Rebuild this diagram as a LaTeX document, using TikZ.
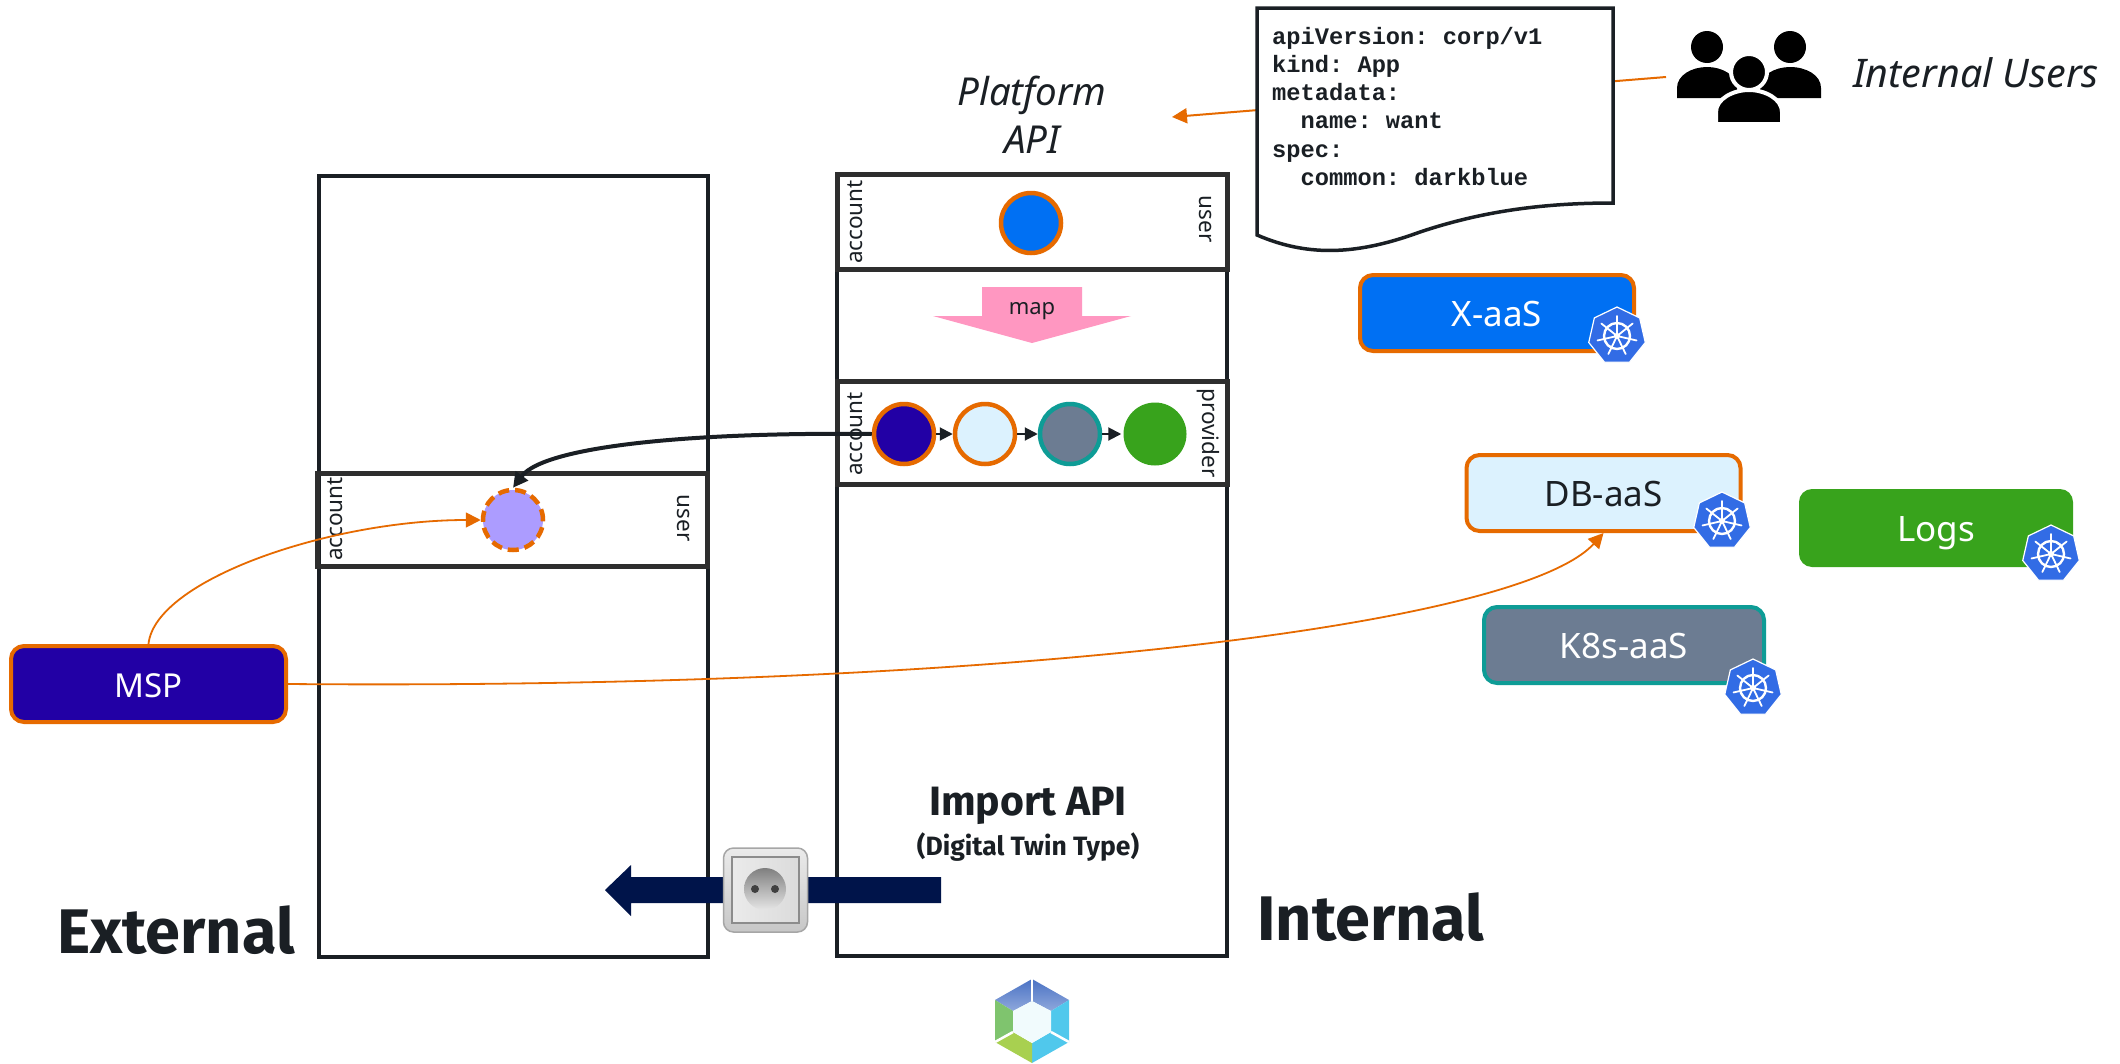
\documentclass[tikz,border=0pt]{standalone}
\usepackage{fontspec}
\setmainfont{Noto Sans}
\newfontfamily\firaf{Fira Sans}
\newfontfamily\docmono{Liberation Mono}
\usetikzlibrary{arrows.meta,shapes.geometric}
\definecolor{ink}{HTML}{1A1F24}
\definecolor{rowink}{HTML}{2E2E2E}
\definecolor{orng}{HTML}{E66A00}
\definecolor{xblue}{HTML}{0070F3}
\definecolor{dbfill}{HTML}{DCF2FE}
\definecolor{msp}{HTML}{2200A5}
\definecolor{slatec}{HTML}{6C7C92}
\definecolor{tealc}{HTML}{0E9C96}
\definecolor{logsg}{HTML}{38A31C}
\definecolor{lilac}{HTML}{AC9CFF}
\definecolor{pinkm}{HTML}{FF97C1}
\definecolor{navy}{HTML}{00144A}
\definecolor{kblue}{HTML}{326CE5}
\definecolor{hexblue}{HTML}{4A72C4}
\definecolor{hexbluel}{HTML}{8FA8DC}
\definecolor{hexcyan}{HTML}{50C8EC}
\definecolor{hexgreen}{HTML}{7FC46E}
\definecolor{hexlime}{HTML}{A8D050}
\tikzset{
  frame/.style={draw=ink,line width=4.5pt},
  rowbox/.style={draw=rowink,line width=5pt},
  svc/.style={rounded corners=13pt,minimum height=76pt,inner sep=0pt,line width=4pt,text height=30pt,text depth=3pt,font=\fontsize{35}{40}\selectfont},
  dot/.style={circle,minimum size=60pt,inner sep=0pt,line width=4.5pt},
  rowlab/.style={font=\fontsize{22.5}{26}\selectfont,text=ink,inner sep=0pt},
  thin orange/.style={draw=orng,line width=1.8pt},
  otip/.style={-{Triangle[length=15pt,width=15pt]}},
  heading/.style={font=\firaf\bfseries\fontsize{63}{70}\selectfont,text=ink,inner sep=0pt},
  chain/.style={draw=ink,line width=2pt,-{Triangle[length=13pt,width=13pt]}},
  kube/.pic={
    \path[fill=kblue,draw=white,line width=1.2pt]
      (-90:29) -- (-38.6:29) -- (12.9:29) -- (64.3:29) -- (115.7:29) -- (167.1:29) -- (218.6:29) -- cycle;
    \draw[white,line width=2.4pt] (0,0) circle [radius=13];
    \fill[white] (0,0) circle [radius=3.2];
    \foreach \a in {-90,-38.6,12.9,64.3,115.7,167.1,218.6}{
      \draw[white,line width=1.8pt,line cap=round] (\a:3) -- (\a:20);
    }
  },
}
\begin{document}
\begin{tikzpicture}[x=1pt,y=-1pt]
\useasboundingbox (0,0) rectangle (2120,1063);
\fill[white] (0,0) rectangle (2120,1063);

% main columns
\draw[frame] (319,176) rectangle (708,957);
\draw[frame] (837,174) rectangle (1227,956);
\draw[rowbox] (837,174) rectangle (1227,269);
\draw[rowbox] (837,381) rectangle (1227,484);
\draw[rowbox] (317,473) rectangle (707,566);

% rows: top
\node[dot,fill=xblue,draw=orng] (cblue) at (1031,223) {};
\node[rowlab,rotate=90] (la1) at (855,222) {account};
\node[rowlab,rotate=-90] (lu1) at (1206,219) {user};

% map arrow
\fill[pinkm] (982,287) -- (1082,287) -- (1082,316) -- (1131,316) -- (1032,343) -- (933,316) -- (982,316) -- cycle;
\node[rowlab,font=\fontsize{22}{26}\selectfont] (maplab) at (1032,311) {map};

% provider row
\node[rowlab,rotate=90] (la2) at (855,434) {account};
\node[rowlab,rotate=-90] (lp2) at (1208,433) {provider};
\node[dot,fill=msp,draw=orng] (c1) at (904,434) {};
\node[dot,fill=dbfill,draw=orng] (c2) at (985,434) {};
\node[dot,fill=slatec,draw=tealc] (c3) at (1070,434) {};
\node[dot,fill=logsg,minimum size=63pt,draw=none] (c4) at (1155,434) {};
\draw[chain] (c1) -- (c2);
\draw[chain] (c2) -- (c3);
\draw[chain] (c3) -- (c4);

% external row
\node[rowlab,rotate=90] (la3) at (335,519) {account};
\node[rowlab,rotate=-90] (lu3) at (684,518) {user};
\node[dot,fill=lilac,draw=orng,dashed,dash pattern=on 11pt off 6pt] (cext) at (513,520) {};

% black arrow
\draw[draw=ink,line width=4pt,-{Triangle[length=15pt,width=15pt]}] (c1.west)
  .. controls (700,432) and (545,445) .. (cext.north);

% services
\node[svc,fill=xblue,draw=orng,text=white,minimum width=274pt] (xaas) at (1497,313) {X-aaS};
\node[svc,fill=dbfill,draw=orng,text=ink,minimum width=274pt] (dbaas) at (1603.5,493) {DB-aaS};
\node[svc,fill=logsg,text=white,minimum width=274pt,minimum height=78pt] (logs) at (1936,528) {Logs};
\node[svc,fill=slatec,draw=tealc,text=white,minimum width=280pt] (k8s) at (1624,645) {K8s-aaS};
\pic at (1617,336) {kube};
\pic at (1722,521) {kube};
\pic at (2051,554) {kube};
\pic at (1753,688) {kube};

% MSP
\node[svc,fill=msp,draw=orng,text=white,minimum width=275pt,font=\fontsize{33}{40}\selectfont] (mspbox) at (148.5,684) {MSP};
\draw[thin orange,otip] (mspbox.north) .. controls (155,580) and (330,520) .. (cext.west);
\draw[thin orange,otip] (mspbox.east) .. controls (1000,690) and (1520,625) .. (dbaas.south);

% platform
\node[font=\itshape\fontsize{38.5}{48}\selectfont,text=ink,align=center,inner sep=0pt] (plat) at (1032,115) {Platform\\API};
\coordinate (usersEnd) at (1666,77);
\coordinate (platEnd) at (1172,117);
\draw[thin orange,line width=2pt,otip] (usersEnd) -- (platEnd);

% document
\path[fill=white,draw=ink,line width=3.5pt] (1257,8) -- (1613,8) -- (1613,203)
  .. controls (1540,203) and (1480,212) .. (1420,232)
  .. controls (1360,254) and (1310,258) .. (1257,235) -- cycle;
\node[anchor=north west,align=left,inner sep=0pt,font=\frenchspacing\docmono\bfseries\fontsize{23.7}{28.2}\selectfont,text=ink] (doc) at (1272,27)
 {apiVersion: corp/v1\\kind: App\\metadata:\\\ \ name: want\\spec:\\\ \ common: darkblue};

% users icon
\fill[black] (1707,47) circle [radius=16];
\fill[black] (1790,47) circle [radius=16];
\fill[black] (1677,98) -- (1677,88) .. controls (1677,75) and (1692,67) .. (1707,67) .. controls (1722,67) and (1737,75) .. (1737,88) -- (1737,98) -- cycle;
\fill[black] (1760,98) -- (1760,88) .. controls (1760,75) and (1775,67) .. (1790,67) .. controls (1806,67) and (1821,75) .. (1821,88) -- (1821,98) -- cycle;
\path[fill=black,draw=white,line width=4pt] (1749,72) circle [radius=18];
\path[fill=black,draw=white,line width=4pt] (1716,124) -- (1716,112) .. controls (1716,99) and (1733,90) .. (1749,90) .. controls (1765,90) and (1782,99) .. (1782,112) -- (1782,124) -- cycle;
\node[font=\itshape\fontsize{39.4}{46}\selectfont,text=ink,inner sep=0pt] (iu) at (1976,73) {Internal Users};

% headings
\node[font=\firaf\bfseries\fontsize{41}{46}\selectfont,text=ink,inner sep=0pt] (imp) at (1028,806) {Import API};
\node[font=\firaf\bfseries\fontsize{26.5}{30}\selectfont,text=ink,inner sep=0pt] (imp2) at (1028,847) {(Digital Twin Type)};
\node[heading] (ext) at (176,930) {External};
\node[heading] (int) at (1371,917) {Internal};

% navy arrow and socket
\fill[navy] (941,877) -- (631,877) -- (631,865) -- (605,890) -- (631,916) -- (631,903) -- (941,903) -- cycle;
\node[rounded corners=10pt,minimum width=84pt,minimum height=84pt,inner sep=0pt,draw=black!35,line width=1.5pt,top color=white!92!black,bottom color=black!22] (sock) at (765.5,890) {};
\path[draw=black!45,line width=1.8pt,left color=black!8,right color=black!14] (732,857) rectangle (799,923);
\path[top color=black!50,bottom color=black!10] (765,889) circle [radius=21];
\fill[black!75] (755,889) circle [radius=4];
\fill[black!75] (775,889) circle [radius=4];

% hex logo
\fill[white] (1032,979) -- (1069,1000) -- (1069,1042) -- (1032,1063) -- (995,1042) -- (995,1000) -- cycle;
\path[top color=hexblue,bottom color=hexbluel] (1032,979) -- (1069,1000) -- (1051,1011) -- (1032,1001) -- cycle;
\path[top color=hexblue,bottom color=hexbluel] (1032,979) -- (1032,1001) -- (1013,1011) -- (995,1000) -- cycle;
\fill[hexcyan] (1069,1000) -- (1069,1042) -- (1051,1032) -- (1051,1011) -- cycle;
\fill[hexcyan] (1069,1042) -- (1032,1063) -- (1032,1043) -- (1051,1032) -- cycle;
\fill[hexlime] (1032,1063) -- (995,1042) -- (1013,1032) -- (1032,1043) -- cycle;
\fill[hexgreen] (995,1042) -- (995,1000) -- (1013,1011) -- (1013,1032) -- cycle;
\fill[hexcyan!8] (1032,1001) -- (1051,1011) -- (1051,1032) -- (1032,1043) -- (1013,1032) -- (1013,1011) -- cycle;
\draw[white,line width=2.5pt] (1032,979) -- (1032,1001);
\draw[white,line width=2.5pt] (995,1042) -- (1013,1032);
\draw[white,line width=2.5pt] (1069,1042) -- (1051,1032);
\end{tikzpicture}
\end{document}
